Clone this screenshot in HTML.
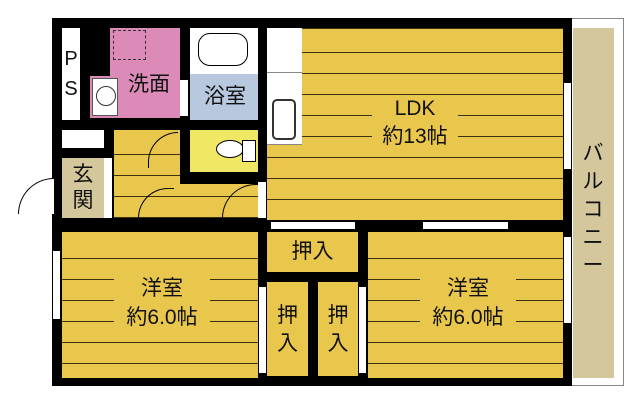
<!DOCTYPE html>
<html><head><meta charset="utf-8"><style>
body{margin:0;width:640px;height:406px;background:#fff;position:relative;overflow:hidden;font-family:"Liberation Sans","Noto Sans CJK JP",sans-serif}
div{position:absolute;box-sizing:border-box}
.y{background-color:#e9c64c;background-image:repeating-linear-gradient(to bottom,transparent 0,transparent 20px,#3a3010 20px,#3a3010 21px)}
.t{color:#111;font-size:21px;text-align:center;line-height:26px}
.w{background:#fff}
.win{background:#fff;border:1px solid #000}
</style></head><body>
<div style="left:571px;top:18px;width:53px;height:368px;background:#fff;border:1px solid #888"></div>
<div style="left:573px;top:28px;width:41px;height:350px;background:#d3c79b"></div>
<div class="t" style="left:578px;top:140px;width:30px;line-height:28px">バ<br>ル<br>コ<br>ニ<br>ー</div>
<div style="left:52px;top:18px;width:520px;height:368px;background:#000"></div>
<!-- PS -->
<div class="w" style="left:62px;top:28px;width:18px;height:92px"></div>
<div class="t" style="left:62px;top:44px;width:18px;line-height:30px;font-size:20px">P<br>S</div>
<!-- wash -->
<div style="left:110px;top:28px;width:70px;height:90px;background:#dc8bb9"></div>
<div style="left:90px;top:76px;width:22px;height:42px;background:#dc8bb9"></div>
<div style="left:92px;top:78px;width:26px;height:38px;background:#fff;border:1px solid #555"></div>
<div style="left:96px;top:86px;width:20px;height:20px;border:1px solid #333;border-radius:50%"></div>
<div style="left:113px;top:30px;width:33px;height:30px;border:1px dashed #333"></div>
<div class="t" style="left:124px;top:72px;width:50px">洗面</div>
<!-- bath -->
<div class="w" style="left:190px;top:28px;width:68px;height:46px"></div>
<div style="left:198px;top:33px;width:50px;height:33px;border:1px solid #000;border-radius:12px"></div>
<div style="left:190px;top:74px;width:68px;height:46px;background:#b8c8df"></div>
<div class="t" style="left:195px;top:84px;width:60px">浴室</div>
<div class="w" style="left:180px;top:80px;width:8px;height:36px"></div>
<!-- small white / genkan -->
<div class="w" style="left:62px;top:130px;width:42px;height:18px"></div>
<div style="left:62px;top:158px;width:42px;height:60px;background:#d3c79b"></div>
<div class="t" style="left:62px;top:162px;width:42px;line-height:26px">玄<br>関</div>
<div class="w" style="left:104px;top:158px;width:8px;height:60px"></div>
<div style="left:18px;top:178px;width:36px;height:36px;border:1px solid #000;border-right:none;border-bottom:none;border-radius:36px 0 0 0;background:#fff"></div>
<!-- hallway -->
<div class="y" style="left:114px;top:130px;width:144px;height:88px;background-position:0 4px"></div>
<div style="left:180px;top:130px;width:10px;height:50px;background:#000"></div>
<div style="left:180px;top:172px;width:78px;height:12px;background:#000"></div>
<div style="left:190px;top:130px;width:68px;height:42px;background:#f0e865"></div>
<div style="left:216px;top:140px;width:28px;height:18px;border:1px solid #000;border-radius:50%;background:#fff"></div>
<div class="w" style="left:242px;top:140px;width:14px;height:22px;border:1px solid #000"></div>
<div style="left:148px;top:132px;width:30px;height:36px;border:1px solid #000;border-right:none;border-bottom:none;border-radius:30px 0 0 0"></div>
<div style="left:138px;top:188px;width:36px;height:30px;border:1px solid #000;border-right:none;border-bottom:none;border-radius:36px 0 0 0"></div>
<div style="left:222px;top:184px;width:36px;height:34px;border:1px solid #000;border-right:none;border-bottom:none;border-radius:36px 0 0 0"></div>
<div class="w" style="left:258px;top:182px;width:8px;height:36px"></div>
<!-- LDK -->
<div class="y" style="left:267px;top:28px;width:296px;height:192px;background-position:0 4px"></div>
<div class="w" style="left:267px;top:28px;width:35px;height:117px;border-bottom:1px solid #888"></div>
<div style="left:267px;top:72px;width:35px;height:1px;background:#888"></div>
<div style="left:272px;top:99px;width:24px;height:41px;border:2px solid #333;border-radius:5px;background:#fff"></div>
<div style="left:372px;top:95px;width:86px;height:60px;background:#e9c64c"></div>
<div class="t" style="left:372px;top:95px;width:86px;line-height:28px">LDK<br>約13帖</div>
<div class="win" style="left:563px;top:82px;width:9px;height:88px"></div>
<!-- mid wall windows -->
<div class="win" style="left:270px;top:221px;width:86px;height:9px"></div>
<div class="win" style="left:422px;top:221px;width:87px;height:9px"></div>
<!-- rooms bottom -->
<div class="y" style="left:62px;top:232px;width:196px;height:146px;background-position:0 6px"></div>
<div style="left:114px;top:272px;width:96px;height:62px;background:#e9c64c"></div>
<div class="t" style="left:110px;top:274px;width:104px;line-height:29px">洋室<br>約6.0帖</div>
<div class="win" style="left:52px;top:250px;width:9px;height:70px"></div>
<div class="y" style="left:267px;top:232px;width:91px;height:40px;background-image:none"></div>
<div class="t" style="left:267px;top:239px;width:91px">押入</div>
<div class="y" style="left:267px;top:282px;width:41px;height:94px;background-image:none"></div>
<div class="y" style="left:318px;top:282px;width:40px;height:94px;background-image:none"></div>
<div class="t" style="left:267px;top:302px;width:41px;line-height:28px">押<br>入</div>
<div class="t" style="left:318px;top:302px;width:40px;line-height:28px">押<br>入</div>
<div class="win" style="left:258px;top:286px;width:9px;height:88px"></div>
<div class="win" style="left:358px;top:286px;width:9px;height:88px"></div>
<div class="y" style="left:368px;top:232px;width:195px;height:146px;background-position:0 6px"></div>
<div style="left:420px;top:272px;width:96px;height:62px;background:#e9c64c"></div>
<div class="t" style="left:416px;top:274px;width:104px;line-height:29px">洋室<br>約6.0帖</div>
<div class="win" style="left:563px;top:236px;width:9px;height:88px"></div>
</body></html>
